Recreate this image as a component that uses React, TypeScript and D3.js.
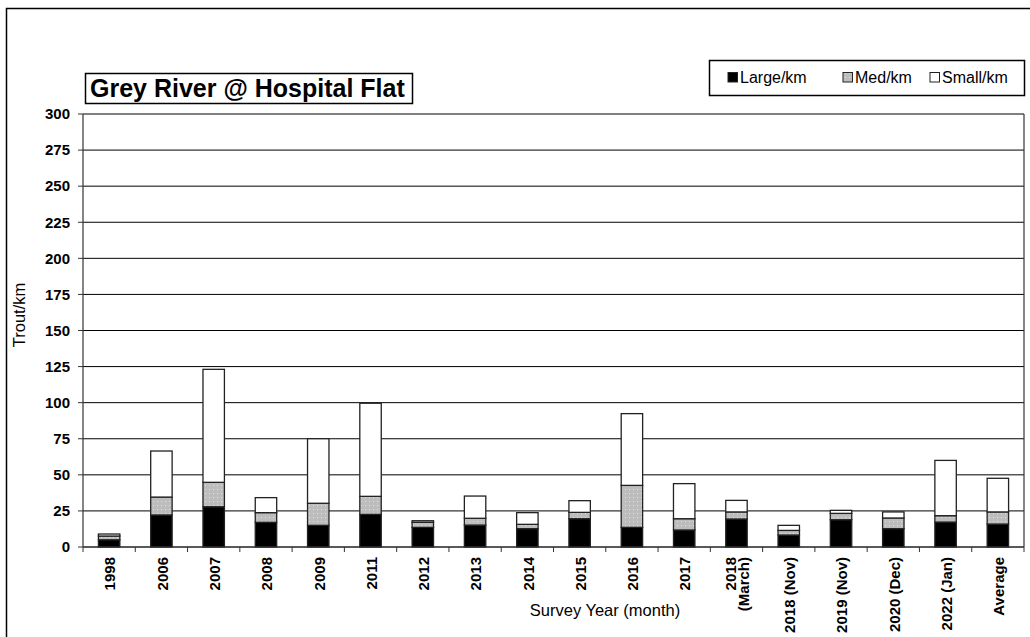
import React from "react";
import * as d3 from "d3";

const categories = ["1998", "2006", "2007", "2008", "2009", "2011", "2012", "2013", "2014", "2015", "2016", "2017", "2018\n(March)", "2018 (Nov)", "2019 (Nov)", "2020 (Dec)", "2022 (Jan)", "Average"];
const largeKm = [5, 22.2, 27.9, 17.1, 15, 22.6, 13.6, 15.2, 12.7, 19.6, 13.6, 11.8, 19.4, 8.3, 18.9, 12.7, 17.3, 15.9];
const medKm = [2.6, 12.4, 16.9, 6.7, 15.3, 12.5, 3.5, 4.7, 3.0, 4.4, 29.1, 7.8, 4.9, 3.2, 4.4, 7.4, 4.4, 8.4];
const smallKm = [1.4, 31.9, 78.3, 10.4, 44.7, 64.5, 1.1, 15.4, 8.1, 8.1, 49.7, 24.3, 8.0, 3.5, 2.1, 4.2, 38.3, 23.3];
const yTicks = [0, 25, 50, 75, 100, 125, 150, 175, 200, 225, 250, 275, 300];
const seriesNames = ["Large/km", "Med/km", "Small/km"];

const FONT = "'Liberation Sans', Arial, sans-serif";

export default function App() {
  const W = 1030, H = 637;
  const left = 83, right = 1024, top = 114, bottom = 547;
  const x = d3.scaleBand<string>().domain(categories).range([left, right]).padding(0);
  const y = d3.scaleLinear().domain([0, 300]).range([bottom, top]);
  const barW = x.bandwidth() * 0.41;

  const rows = categories.map((c, i) => ({ cat: c, large: largeKm[i], med: medKm[i], small: smallKm[i] }));
  const stack = d3.stack<any>().keys(["large", "med", "small"])(rows);
  const fills = ["#000000", "url(#medPat)", "#ffffff"];

  return (
    <svg width={W} height={H} style={{ position: "absolute", left: 0, top: 0, background: "#fff" }} fontFamily={FONT}>
      <defs>
        <pattern id="medPat" width="4" height="4" patternUnits="userSpaceOnUse">
          <rect width="4" height="4" fill="#bdbdbd" />
          <rect x="1" y="1" width="1" height="1" fill="#e0e0e0" />
        </pattern>
      </defs>
      <rect x={0} y={0} width={W} height={H} fill="#fff" />
      {/* outer chart border */}
      <path d={`M6.5,${H} V8.5 H${W}`} fill="none" stroke="#000" strokeWidth={1.5} />

      {/* gridlines */}
      {yTicks.map((t) => (
        <line key={"g" + t} x1={left} x2={right} y1={y(t)} y2={y(t)} stroke="#000" strokeWidth={1} />
      ))}
      {/* plot border */}
      <line x1={left} x2={left} y1={top} y2={bottom} stroke="#333" strokeWidth={1.2} />
      <line x1={right} x2={right} y1={top} y2={bottom} stroke="#333" strokeWidth={1.2} />

      {/* y ticks */}
      {yTicks.map((t) => (
        <g key={"t" + t}>
          <line x1={left - 5} x2={left} y1={y(t)} y2={y(t)} stroke="#333" strokeWidth={1} />
          <text x={70} y={y(t)} dy="0.35em" textAnchor="end" fontSize={15} fontWeight="bold">{t}</text>
        </g>
      ))}

      {/* bars */}
      {stack.map((s, si) => (
        <g key={"s" + si}>
          {s.map((d, i) => {
            const cx = (x(categories[i]) as number) + x.bandwidth() / 2;
            const y0 = y(d[0]), y1 = y(d[1]);
            return (
              <rect key={i} x={cx - barW / 2} y={y1} width={barW} height={Math.max(0, y0 - y1)}
                fill={fills[si]} stroke="#222" strokeWidth={1.3} />
            );
          })}
        </g>
      ))}

      {/* x axis */}
      <line x1={left} x2={right} y1={bottom} y2={bottom} stroke="#333" strokeWidth={1.2} />
      {categories.map((c, i) => {
        const x0 = x(c) as number;
        return <line key={"xt" + i} x1={x0} x2={x0} y1={bottom} y2={bottom + 5} stroke="#333" strokeWidth={1} />;
      })}
      <line x1={right} x2={right} y1={bottom} y2={bottom + 5} stroke="#333" strokeWidth={1} />
      {categories.map((c, i) => {
        const cx = (x(c) as number) + x.bandwidth() / 2;
        const lines = c.split("\n");
        return (
          <text key={"xl" + i} transform={`translate(${cx + 1},${bottom + 10}) rotate(-90)`} textAnchor="end" fontSize={15} fontWeight="bold">
            {lines.map((ln, li) => (
              <tspan key={li} x={0} y={(li - (lines.length - 1) / 2) * 13} dy="0.35em">{ln}</tspan>
            ))}
          </text>
        );
      })}

      {/* axis titles */}
      <text x={605} y={616} textAnchor="middle" fontSize={16.5}>Survey Year (month)</text>
      <text transform={`translate(25,315) rotate(-90)`} textAnchor="middle" fontSize={16.5}>Trout/km</text>

      {/* title */}
      <rect x={85.5} y={73.5} width={327} height={30} fill="#fff" stroke="#000" strokeWidth={1.5} />
      <text x={90} y={97} fontSize={25} fontWeight="bold">Grey River @ Hospital Flat</text>

      {/* legend */}
      <rect x={709.5} y={60.5} width={315} height={35} fill="#fff" stroke="#000" strokeWidth={1.5} />
      {seriesNames.map((n, i) => {
        const lx = [728, 843, 930][i];
        return (
          <g key={"lg" + i}>
            <rect x={lx} y={72.5} width={9.5} height={9.5} fill={fills[i]} stroke="#222" strokeWidth={1} />
            <text x={lx + 12} y={83} fontSize={16}>{n}</text>
          </g>
        );
      })}
    </svg>
  );
}
